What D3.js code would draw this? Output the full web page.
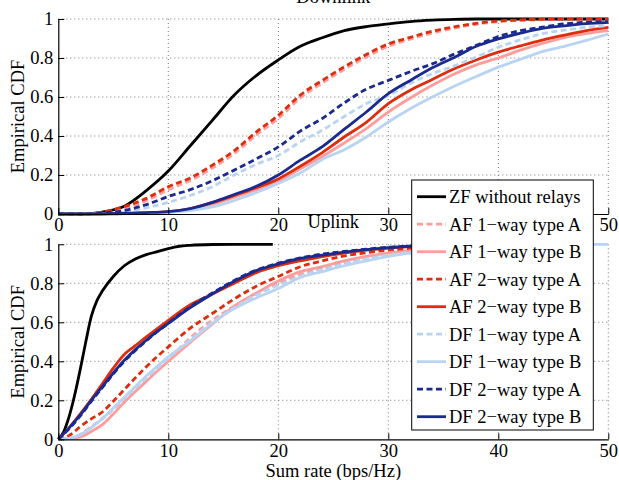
<!DOCTYPE html>
<html>
<head>
<meta charset="utf-8">
<script src="https://cdn.jsdelivr.net/npm/d3@7"></script>
<style>
  body { margin: 0; background: #fff; }
  svg { display: block; font-family: "Liberation Serif", "Times New Roman", serif; }
</style>
</head>
<body>
<div id="chart"></div>
<script>
// series names (legend order)
const names = ["ZF without relays", "AF 1\u2212way type A", "AF 1\u2212way type B", "AF 2\u2212way type A",
  "AF 2\u2212way type B", "DF 1\u2212way type A", "DF 1\u2212way type B", "DF 2\u2212way type A", "DF 2\u2212way type B"];
const xTicks = [0, 10, 20, 30, 40, 50];
const yTicks = [0, 0.2, 0.4, 0.6, 0.8, 1];

// Downlink: sum rate grid and CDF values
const dlX = [0, 2, 4, 6, 8, 10, 12, 14, 16, 18, 20, 22, 24, 26, 28, 30, 32, 34, 36, 38, 40, 42, 44, 46, 48, 50];
const dlZF   = [0, 0, 0.01, 0.04, 0.12, 0.22, 0.35, 0.48, 0.61, 0.71, 0.79, 0.86, 0.904, 0.94, 0.961, 0.975, 0.987, 0.994, 0.998, 1, 1, 1, 1, 1, 1, 1];
const dlAF1A = [0, 0, 0.008, 0.03, 0.068, 0.125, 0.172, 0.235, 0.31, 0.405, 0.49, 0.595, 0.672, 0.742, 0.805, 0.86, 0.897, 0.928, 0.953, 0.973, 0.986, 0.993, 0.997, 1, 1, 1];
const dlAF1B = [0, 0, 0, 0.002, 0.005, 0.01, 0.024, 0.05, 0.086, 0.125, 0.168, 0.232, 0.295, 0.365, 0.438, 0.523, 0.595, 0.66, 0.718, 0.765, 0.80, 0.84, 0.875, 0.905, 0.925, 0.94];
const dlAF2A = [0, 0, 0.01, 0.038, 0.08, 0.14, 0.185, 0.25, 0.325, 0.42, 0.506, 0.61, 0.685, 0.755, 0.818, 0.872, 0.906, 0.937, 0.96, 0.978, 0.99, 0.995, 0.998, 1, 1, 1];
const dlAF2B = [0, 0, 0, 0.002, 0.006, 0.012, 0.028, 0.058, 0.095, 0.135, 0.18, 0.245, 0.315, 0.395, 0.47, 0.566, 0.635, 0.69, 0.745, 0.79, 0.83, 0.862, 0.892, 0.917, 0.94, 0.957];
const dlDF1A = [0, 0, 0.003, 0.012, 0.032, 0.06, 0.095, 0.14, 0.2, 0.255, 0.30, 0.37, 0.43, 0.50, 0.566, 0.608, 0.67, 0.72, 0.76, 0.805, 0.855, 0.893, 0.925, 0.943, 0.957, 0.966];
const dlDF1B = [0, 0, 0, 0.001, 0.004, 0.008, 0.018, 0.036, 0.07, 0.11, 0.157, 0.21, 0.28, 0.33, 0.395, 0.472, 0.54, 0.60, 0.655, 0.705, 0.753, 0.793, 0.833, 0.86, 0.89, 0.923];
const dlDF2A = [0, 0, 0.005, 0.018, 0.048, 0.09, 0.125, 0.17, 0.225, 0.283, 0.344, 0.425, 0.49, 0.57, 0.64, 0.685, 0.73, 0.77, 0.82, 0.865, 0.91, 0.94, 0.958, 0.975, 0.983, 0.986];
const dlDF2B = [0, 0, 0.001, 0.004, 0.007, 0.012, 0.028, 0.06, 0.10, 0.142, 0.2, 0.276, 0.345, 0.435, 0.523, 0.617, 0.685, 0.75, 0.803, 0.86, 0.898, 0.927, 0.952, 0.965, 0.976, 0.983];

// Uplink: ZF has its own grid (stops near 19.5), the relays share another
const ulZFX = [0, 0.5, 1, 1.5, 2, 2.5, 3, 3.5, 4, 5, 6, 7, 8, 9, 10, 11, 12, 14, 16, 19.5];
const ulZF  = [0, 0.04, 0.12, 0.23, 0.36, 0.50, 0.63, 0.71, 0.76, 0.835, 0.89, 0.925, 0.947, 0.962, 0.978, 0.99, 0.995, 0.999, 1, 1];
const ulX = [0, 1, 2, 3, 4, 5, 6, 7, 8, 9, 10, 12, 14, 16, 18, 20, 22, 24, 26, 28, 30, 32, 34, 38, 42, 46, 50];
const ulAF1A = [0, 0.005, 0.025, 0.065, 0.105, 0.155, 0.205, 0.26, 0.31, 0.36, 0.41, 0.52, 0.61, 0.683, 0.745, 0.80, 0.845, 0.875, 0.905, 0.93, 0.95, 0.965, 0.977, 0.99, 0.998];
const ulAF1B = [0, 0.003, 0.012, 0.04, 0.075, 0.13, 0.19, 0.245, 0.297, 0.35, 0.40, 0.497, 0.59, 0.683, 0.75, 0.812, 0.86, 0.886, 0.915, 0.938, 0.955, 0.968, 0.978, 0.991, 0.998];
const ulAF2A = [0, 0.02, 0.065, 0.105, 0.14, 0.195, 0.255, 0.315, 0.372, 0.425, 0.474, 0.57, 0.645, 0.72, 0.785, 0.835, 0.885, 0.915, 0.94, 0.957, 0.97, 0.98, 0.988, 0.996, 1];
const ulAF2B = [0, 0.06, 0.13, 0.205, 0.285, 0.365, 0.435, 0.48, 0.525, 0.568, 0.61, 0.69, 0.745, 0.80, 0.855, 0.89, 0.915, 0.937, 0.955, 0.97, 0.98, 0.988, 0.993, 0.998, 1];
const ulDF1A = [0, 0.005, 0.025, 0.062, 0.108, 0.158, 0.21, 0.262, 0.315, 0.365, 0.415, 0.51, 0.60, 0.675, 0.74, 0.79, 0.835, 0.87, 0.9, 0.925, 0.945, 0.96, 0.972, 0.988, 0.996];
const ulDF1B = [0, 0.005, 0.022, 0.06, 0.105, 0.16, 0.215, 0.27, 0.325, 0.375, 0.423, 0.505, 0.595, 0.67, 0.725, 0.773, 0.83, 0.86, 0.89, 0.915, 0.938, 0.955, 0.968, 0.985, 0.993, 0.998, 1];
const ulDF2A = [0, 0.055, 0.12, 0.195, 0.265, 0.335, 0.4, 0.455, 0.505, 0.552, 0.595, 0.68, 0.75, 0.815, 0.868, 0.903, 0.93, 0.95, 0.963, 0.975, 0.985, 0.99, 0.995, 0.999, 1];
const ulDF2B = [0, 0.06, 0.125, 0.2, 0.27, 0.34, 0.405, 0.46, 0.508, 0.553, 0.594, 0.675, 0.745, 0.81, 0.865, 0.90, 0.928, 0.945, 0.96, 0.973, 0.983, 0.99, 0.995, 0.999, 1];

// line styles per series
const colors = ["#000000", "#ff9c9c", "#ff9c9c", "#de2d0c", "#de2d0c", "#b8d4f2", "#b8d4f2", "#1b2a8e", "#1b2a8e"];
const dashed = [false, true, false, true, false, true, false, true, false];

const W = 619, H = 480;
const svg = d3.select("#chart").append("svg")
  .attr("width", W).attr("height", H);

const x = d3.scaleLinear().domain([0, 50]).range([58.3, 608.3]);
const panels = [
  { title: "Downlink", titleY: 3, top: 19, bottom: 214, hideX: [40], xs: [dlX, dlX, dlX, dlX, dlX, dlX, dlX, dlX, dlX],
    ys: [dlZF, dlAF1A, dlAF1B, dlAF2A, dlAF2B, dlDF1A, dlDF1B, dlDF2A, dlDF2B] },
  { title: "Uplink", titleY: 228, top: 244.3, bottom: 439.3, hideX: [], xs: [ulZFX, ulX, ulX, ulX, ulX, ulX, ulX, ulX, ulX],
    ys: [ulZF, ulAF1A, ulAF1B, ulAF2A, ulAF2B, ulDF1A, ulDF1B, ulDF2A, ulDF2B] }
];

const fs = 18.5;

panels.forEach(p => {
  const y = d3.scaleLinear().domain([0, 1]).range([p.bottom, p.top]);
  const g = svg.append("g");

  // dotted grid
  g.selectAll(".gx").data(xTicks.slice(1)).join("line")
    .attr("x1", d => x(d)).attr("x2", d => x(d))
    .attr("y1", p.top).attr("y2", p.bottom)
    .attr("stroke", "#777").attr("stroke-width", 1).attr("stroke-dasharray", "1,3");
  g.selectAll(".gy").data(yTicks.slice(1)).join("line")
    .attr("x1", x(0)).attr("x2", x(50))
    .attr("y1", d => y(d)).attr("y2", d => y(d))
    .attr("stroke", "#777").attr("stroke-width", 1).attr("stroke-dasharray", "1,3");

  // curves
  const line = d3.line().curve(d3.curveMonotoneX);
  p.ys.forEach((vals, i) => {
    const pts = vals.map((v, j) => [x(p.xs[i][j]), y(v)]);
    g.append("path")
      .attr("d", line(pts))
      .attr("fill", "none")
      .attr("stroke", colors[i])
      .attr("stroke-width", 2.8)
      .attr("stroke-dasharray", dashed[i] ? "6,3.5" : null);
  });

  // axes (ticks inward, no box)
  const ax = g.append("g").attr("transform", `translate(0,${p.bottom})`)
    .call(d3.axisBottom(x).tickValues(xTicks).tickSizeInner(-6).tickSizeOuter(0).tickPadding(4)
      .tickFormat(d => p.hideX.includes(d) ? "" : d3.format("d")(d)));
  const ay = g.append("g").attr("transform", `translate(${x(0)},0)`)
    .call(d3.axisLeft(y).tickValues(yTicks).tickSizeInner(-6).tickSizeOuter(0).tickPadding(5)
      .tickFormat(d => d === 0 || d === 1 ? d3.format("d")(d) : d3.format(".1f")(d)));
  [ax, ay].forEach(a => {
    a.select(".domain").attr("stroke", "#000").attr("stroke-width", 1.2);
    a.selectAll(".tick line").attr("stroke", "#000");
    a.selectAll("text").attr("fill", "#000").attr("font-size", fs).attr("font-family", "Liberation Serif");
  });
  ax.selectAll("text").attr("dy", "0.72em");

  svg.append("text")
    .attr("x", (x(0) + x(50)) / 2).attr("y", p.titleY)
    .attr("text-anchor", "middle").attr("font-size", fs)
    .text(p.title);

  svg.append("text")
    .attr("transform", `translate(24,${(p.top + p.bottom) / 2}) rotate(-90)`)
    .attr("text-anchor", "middle").attr("font-size", fs)
    .text("Empirical CDF");
});

svg.append("text")
  .attr("x", (x(0) + x(50)) / 2).attr("y", 477)
  .attr("text-anchor", "middle").attr("font-size", fs)
  .text("Sum rate (bps/Hz)");

// legend
const lg = svg.append("g");
lg.append("rect")
  .attr("x", 411.7).attr("y", 180).attr("width", 181.6).attr("height", 250)
  .attr("fill", "#fff").attr("stroke", "#000").attr("stroke-width", 1);
names.forEach((n, i) => {
  const cy = 196.7 + i * 27.5;
  lg.append("line")
    .attr("x1", 417).attr("x2", 446).attr("y1", cy).attr("y2", cy)
    .attr("stroke", colors[i]).attr("stroke-width", 2.8)
    .attr("stroke-dasharray", dashed[i] ? "6,3.5" : null);
  lg.append("text")
    .attr("x", 449).attr("y", cy).attr("dy", "0.35em")
    .attr("font-size", fs)
    .text(n);
});
</script>
</body>
</html>
